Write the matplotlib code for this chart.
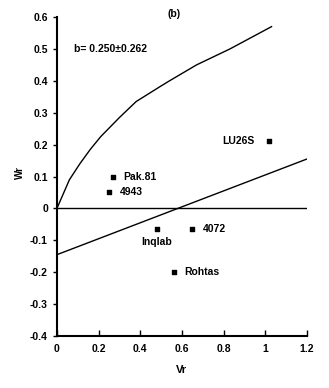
import numpy as np
import matplotlib
matplotlib.use("Agg")
from matplotlib import pyplot as plt

# cultivar points (Vr, Wr)
names = ["LU26S", "Pak.81", "4943", "Inqlab", "4072", "Rohtas"]
vr = [1.02, 0.27, 0.25, 0.48, 0.65, 0.56]
wr = [0.21, 0.10, 0.05, -0.065, -0.065, -0.20]

# limiting parabola
curve_x = [0, 0.06, 0.11, 0.16, 0.21, 0.30, 0.38, 0.49, 0.54, 0.67, 0.83, 1.03]
curve_y = [0, 0.09, 0.14, 0.185, 0.225, 0.285, 0.335, 0.38, 0.40, 0.45, 0.50, 0.57]

# regression line
slope = 0.250
intercept = -0.145
line_x = [0, 1.2]

plt.rcParams["font.family"] = ["Liberation Sans", "DejaVu Sans"]
plt.rcParams["font.weight"] = "bold"

fig = plt.figure(figsize=(3.29, 3.88), dpi=100)
ax = fig.add_axes([0.173, 0.134, 0.76, 0.822])

ax.plot(curve_x, curve_y, color="black", lw=1.0)
ax.plot(line_x, [intercept + slope * x for x in line_x], color="black", lw=1.0)
ax.axhline(0, color="black", lw=1.0)
ax.scatter(vr, wr, marker="s", s=9, color="black", zorder=3)

fs = 7.5
# labels next to the markers
ax.text(vr[0] - 0.07, wr[0], names[0], ha="right", va="center", fontsize=fs, fontweight="bold")
ax.text(vr[1] + 0.05, wr[1], names[1], ha="left", va="center", fontsize=fs, fontweight="bold")
ax.text(vr[2] + 0.05, wr[2], names[2], ha="left", va="center", fontsize=fs, fontweight="bold")
ax.text(vr[3], wr[3] - 0.025, names[3], ha="center", va="top", fontsize=fs, fontweight="bold")
ax.text(vr[4] + 0.05, wr[4], names[4], ha="left", va="center", fontsize=fs, fontweight="bold")
ax.text(vr[5] + 0.05, wr[5], names[5], ha="left", va="center", fontsize=fs, fontweight="bold")

ax.text(0.08, 0.5, "b= 0.250\u00b10.262", ha="left", va="center", fontsize=fs, fontweight="bold")
ax.text(0.56, 0.61, "(b)", ha="center", va="center", fontsize=fs, fontweight="bold")

ax.set_xlim(0, 1.2)
ax.set_ylim(-0.4, 0.6)
ax.set_xticks([0, 0.2, 0.4, 0.6, 0.8, 1, 1.2])
ax.set_xticklabels(["0", "0.2", "0.4", "0.6", "0.8", "1", "1.2"])
ax.set_yticks([-0.4, -0.3, -0.2, -0.1, 0, 0.1, 0.2, 0.3, 0.4, 0.5, 0.6])
ax.set_yticklabels(["-0.4", "-0.3", "-0.2", "-0.1", "0", "0.1", "0.2", "0.3", "0.4", "0.5", "0.6"])
ax.tick_params(axis="x", direction="in", length=4, labelsize=fs, width=1, pad=6)
ax.tick_params(axis="y", direction="out", length=3, labelsize=fs, width=1)
for lab in ax.get_xticklabels() + ax.get_yticklabels():
    lab.set_fontweight("bold")
ax.spines["top"].set_visible(False)
ax.spines["right"].set_visible(False)
ax.spines["left"].set_linewidth(1.5)
ax.spines["bottom"].set_linewidth(1.5)

ax.set_xlabel("Vr", fontsize=8, fontweight="bold", labelpad=8)
fig.text(0.06, 0.555, "Wr", rotation=90, ha="center", va="center", fontsize=7, fontweight="bold")

fig.savefig("out.png", dpi=100)
